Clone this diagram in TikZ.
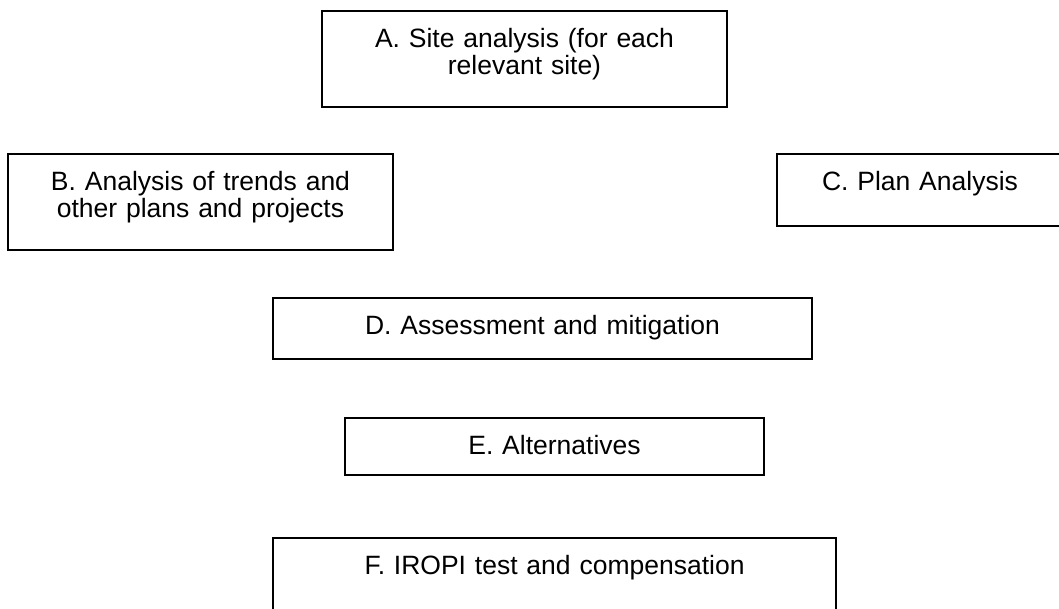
\documentclass[tikz,border=0pt]{standalone}
\usepackage{fontspec}
\setmainfont{Liberation Sans}

\begin{document}
\begin{tikzpicture}[
    x=1pt, y=-1pt,
    stage/.style={draw, line width=1.8pt, anchor=north, inner sep=0pt, align=center,
                  font=\fontsize{26.5}{26.5}\selectfont, text height=36.8pt},
]
\useasboundingbox (0,0) rectangle (1059,608);
\clip (0,0) rectangle (1059,608);
% ------------------------------------------------ first row
\node[stage, text width=405pt, text depth=59.2pt] (site) at (524.5,10) {A. Site analysis (for each\\relevant site)};
% ------------------------------------------------ second row
\node[stage, text width=385pt, text depth=59.2pt] (trends) at (200.5,153) {B. Analysis of trends and\\other plans and projects};
\node[stage, text width=286pt, text depth=35.2pt] (plan) at (920,153) {C. Plan Analysis};
% ------------------------------------------------ lower stages
\node[stage, text width=539pt, text depth=24.2pt] (assess) at (542.5,297) {D. Assessment and mitigation};
\node[stage, text width=419pt, text depth=20.2pt] (alt) at (554.5,417) {E. Alternatives};
\node[stage, text width=563pt, text depth=50pt] (iropi) at (554.5,537) {F. IROPI test and compensation};
\end{tikzpicture}
\end{document}
